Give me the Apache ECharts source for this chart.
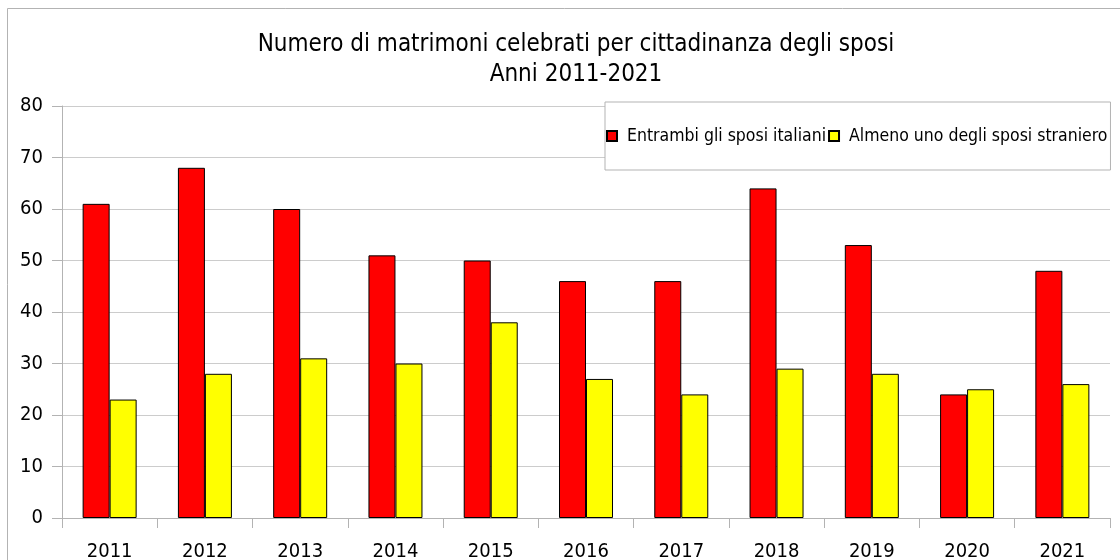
<!DOCTYPE html>
<html lang="it">
  <head>
    <meta charset="UTF-8" />
    <title>Matrimoni per cittadinanza degli sposi</title>
    <script src="https://cdn.jsdelivr.net/npm/echarts@6/dist/echarts.min.js"></script>
    <style>
      html, body { margin: 0; padding: 0; background: #fff; }
      #main { width: 1120px; height: 560px; }
    </style>
  </head>
  <body>
    <div id="main"></div>

    <script>
      const anni = ['2011', '2012', '2013', '2014', '2015', '2016', '2017', '2018', '2019', '2020', '2021'];
      const italiani = [61, 68, 60, 51, 50, 46, 46, 64, 53, 24, 48];
      const stranieri = [23, 28, 31, 30, 38, 27, 24, 29, 28, 25, 26];

      const font = '"DejaVu Sans Condensed", "DejaVu Sans", sans-serif';

      const options = {
        animation: false,
        textStyle: { fontFamily: font },
        graphic: [
          {
            type: 'rect',
            shape: { x: 7.5, y: 8.5, width: 1200, height: 600 },
            style: { fill: 'none', stroke: '#b3b3b3', lineWidth: 1 },
          },
        ],
        title: {
          text: 'Numero di matrimoni celebrati per cittadinanza degli sposi\nAnni 2011-2021',
          left: 571,
          top: 25,
          textAlign: 'center',
          textStyle: {
            fontFamily: font,
            fontWeight: 'normal',
            fontSize: 24,
            lineHeight: 30,
            color: '#000',
          },
        },
        legend: {
          left: 605,
          top: 102,
          padding: [25, 3, 25, 1],
          itemGap: 2,
          itemWidth: 10,
          itemHeight: 10,
          icon: 'rect',
          borderColor: '#b3b3b3',
          borderWidth: 1,
          backgroundColor: '#fff',
          textStyle: { fontFamily: font, fontSize: 17.5, color: '#000', padding: [0, 0, 0, 5] },
        },
        grid: { left: 62, right: 10, top: 106, bottom: 42, outerBoundsMode: 'none', containLabel: false },
        xAxis: {
          type: 'category',
          data: anni,
          axisLine: { lineStyle: { color: '#b3b3b3' } },
          axisTick: { show: true, length: 10, lineStyle: { color: '#b3b3b3' } },
          axisLabel: { fontFamily: font, fontSize: 20, color: '#000', margin: 24 },
        },
        yAxis: {
          type: 'value',
          min: 0,
          max: 80,
          interval: 10,
          axisLine: { show: true, lineStyle: { color: '#b3b3b3' } },
          axisTick: { show: true, length: 10, lineStyle: { color: '#b3b3b3' } },
          axisLabel: { fontFamily: font, fontSize: 20, color: '#000', margin: 19 },
          splitLine: { lineStyle: { color: '#cccccc' } },
        },
        series: [
          {
            name: 'Entrambi gli sposi italiani',
            type: 'bar',
            data: italiani,
            barWidth: 27,
            barGap: 0,
            itemStyle: { color: '#ff0000', borderColor: '#000', borderWidth: 1 },
          },
          {
            name: 'Almeno uno degli sposi straniero',
            type: 'bar',
            data: stranieri,
            barWidth: 27,
            itemStyle: { color: '#ffff00', borderColor: '#000', borderWidth: 1 },
          },
        ],
      };

      const myChart = echarts.init(document.getElementById('main'));
      myChart.setOption(options);
    </script>
  </body>
</html>
